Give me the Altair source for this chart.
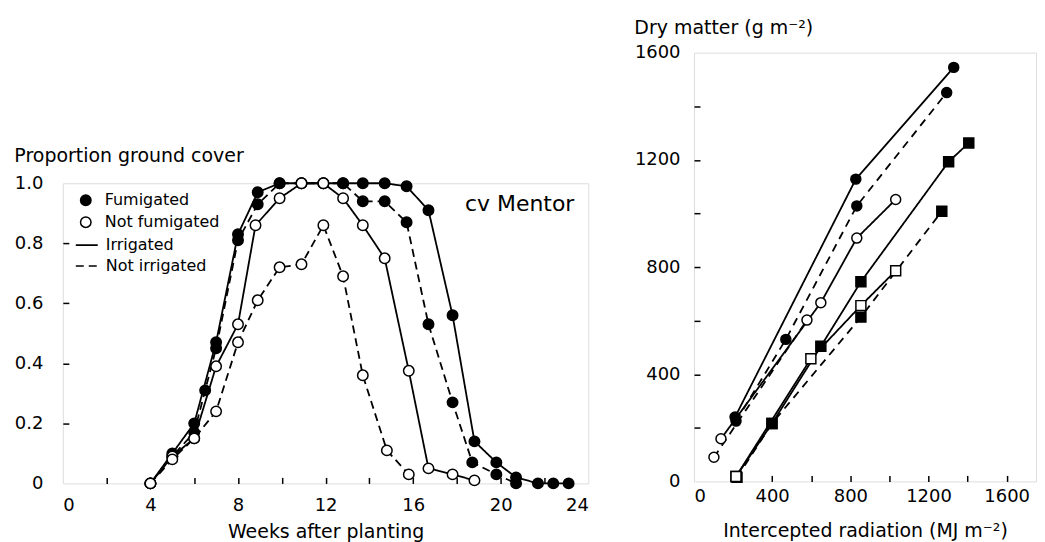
import altair as alt
import pandas as pd

FONT = "DejaVu Sans"

# ---------------- Left panel data: proportion ground cover ----------------
fi_wk = [4, 5, 6, 7, 8, 8.9, 9.9, 10.9, 11.9, 12.8, 13.7, 14.7, 15.7, 16.7, 17.8, 18.8, 19.8, 20.7, 21.7, 22.4, 23.1]
fi_gc = [0, 0.10, 0.20, 0.47, 0.83, 0.97, 1.0, 1.0, 1.0, 1.0, 1.0, 1.0, 0.99, 0.91, 0.56, 0.14, 0.07, 0.02, 0.0, 0.0, 0.0]

fn_wk = [4, 5, 6, 6.5, 7, 8, 8.9, 9.9, 10.9, 11.9, 12.8, 13.7, 14.7, 15.7, 16.7, 17.8, 18.7, 19.8, 20.7]
fn_gc = [0, 0.09, 0.17, 0.31, 0.45, 0.81, 0.93, 1.0, 1.0, 1.0, 1.0, 0.94, 0.94, 0.87, 0.53, 0.27, 0.07, 0.03, 0.0]

ni_wk = [4, 5, 6, 7, 8, 8.8, 9.9, 10.9, 11.9, 12.8, 13.7, 14.7, 15.8, 16.7, 17.8, 18.8]
ni_gc = [0, 0.09, 0.15, 0.39, 0.53, 0.86, 0.95, 1.0, 1.0, 0.95, 0.86, 0.75, 0.375, 0.05, 0.03, 0.01]

nn_wk = [4, 5, 6, 7, 8, 8.9, 9.9, 10.9, 11.9, 12.8, 13.7, 14.8, 15.8]
nn_gc = [0, 0.08, 0.15, 0.24, 0.47, 0.61, 0.72, 0.73, 0.86, 0.69, 0.36, 0.11, 0.03]

fum_levels = ["Fumigated", "Not fumigated"]
irr_levels = ["Irrigated", "Not irrigated"]

left_x_labels = [0, 4, 8, 12, 16, 20, 24]
left_x_ticks = [2, 4, 6, 8, 10, 12, 14, 16, 18, 20, 22]
left_y_labels = [0, 0.2, 0.4, 0.6, 0.8, 1.0]
left_y_ticks = [0.2, 0.4, 0.6, 0.8]

# ---------------- Right panel data: dry matter vs intercepted radiation ----------------
a_x = [210, 828, 1329];            a_y = [240, 1128, 1545]          # filled circle, solid
b_x = [215, 470, 833, 1293];       b_y = [225, 530, 1028, 1451]     # filled circle, dashed
c_x = [138, 649, 833, 1032];       c_y = [159, 667, 908, 1052]      # open circle, solid
d_x = [102, 578];                  d_y = [90, 602]                  # open circle, dashed
e_x = [215, 399, 649, 854, 1303, 1406]; e_y = [18, 216, 504, 745, 1193, 1263]  # filled square, solid
f_x = [220, 399, 854, 1268];       f_y = [15, 216, 613, 1008]       # filled square, dashed
g_x = [215, 598, 854, 1032];       g_y = [18, 458, 656, 786]        # open square, solid

right_x_labels = [0, 400, 800, 1200, 1600]
right_x_ticks = [200, 400, 600, 800, 1000, 1200, 1400, 1600]
right_y_labels = [0, 400, 800, 1200, 1600]
right_y_ticks = [200, 400, 600, 800, 1000, 1200, 1400]

# ---------------- Build tables ----------------
rows = []
for name, fum, irr, wk, gc in [
    ("FI", "Fumigated", "Irrigated", fi_wk, fi_gc),
    ("FN", "Fumigated", "Not irrigated", fn_wk, fn_gc),
    ("NI", "Not fumigated", "Irrigated", ni_wk, ni_gc),
    ("NN", "Not fumigated", "Not irrigated", nn_wk, nn_gc),
]:
    for w, g in zip(wk, gc):
        rows.append({"series": name, "Fumigation": fum, "Irrigation": irr, "week": w, "cover": g})
left_df = pd.DataFrame(rows)

rows = []
for name, fill, dash, shape, xs, ys in [
    ("A", "filled", "solid", "circle", a_x, a_y),
    ("B", "filled", "dashed", "circle", b_x, b_y),
    ("C", "open", "solid", "circle", c_x, c_y),
    ("D", "open", "dashed", "circle", d_x, d_y),
    ("E", "filled", "solid", "square", e_x, e_y),
    ("F", "filled", "dashed", "square", f_x, f_y),
    ("G", "open", "solid", "square", g_x, g_y),
]:
    for xv, yv in zip(xs, ys):
        rows.append({"series": name, "mfill": fill, "dash": dash, "mshape": shape, "rad": xv, "dm": yv})
right_df = pd.DataFrame(rows)

# ---------------- Left panel ----------------
W1, H1 = 527, 301
xs1 = alt.Scale(domain=[0, 24], nice=False, zero=False)
ys1 = alt.Scale(domain=[0, 1], nice=False)

lab_common = dict(labelFont=FONT, labelFontSize=18, labelColor="black", titleFont=FONT,
                  titleFontSize=19, titleFontWeight="normal", titleColor="black", grid=False, domain=False)

x1 = alt.X("week:Q", scale=xs1, axis=alt.Axis(values=left_x_labels, ticks=False, labelPadding=13,
                                              title="Weeks after planting", titlePadding=8, **lab_common))
y1 = alt.Y("cover:Q", scale=ys1, axis=alt.Axis(values=left_y_labels, ticks=False, labelPadding=20, title=None,
                                               labelExpr="datum.value == 0 ? '0' : format(datum.value, '.1f')",
                                               **lab_common))
x1t = alt.X("week:Q", scale=xs1, axis=alt.Axis(orient="top", offset=-H1, values=left_x_ticks, labels=False,
                                               domain=False, grid=False, tickSize=6, tickWidth=1.5,
                                               tickColor="black", title=None))
y1t = alt.Y("cover:Q", scale=ys1, axis=alt.Axis(orient="right", offset=-W1, values=left_y_ticks, labels=False,
                                                domain=False, grid=False, tickSize=6, tickWidth=1.5,
                                                tickColor="black", title=None))

lines1 = alt.Chart(left_df).mark_line(color="black", strokeWidth=1.8).encode(
    x=x1, y=y1, detail="series:N",
    strokeDash=alt.StrokeDash("Irrigation:N",
                              scale=alt.Scale(domain=irr_levels, range=[[1, 0], [8, 5]]),
                              legend=alt.Legend(title=None, orient="none", legendX=12, legendY=50,
                                                symbolType="stroke", symbolSize=484, symbolStrokeColor="black",
                                                symbolStrokeWidth=1.6, labelFont=FONT, labelFontSize=16,
                                                labelColor="black", labelOffset=7, rowPadding=1, padding=0)),
)
pts1 = alt.Chart(left_df).mark_point(filled=True, size=110, shape="circle", stroke="black",
                                     strokeWidth=1.5, opacity=1).encode(
    x=x1t, y=y1t,
    fill=alt.Fill("Fumigation:N", scale=alt.Scale(domain=fum_levels, range=["black", "white"]),
                  legend=alt.Legend(title=None, orient="none", legendX=15, legendY=9, symbolType="circle",
                                    symbolSize=110, symbolStrokeColor="black", symbolStrokeWidth=1.5,
                                    labelFont=FONT, labelFontSize=16, labelColor="black", labelOffset=11,
                                    rowPadding=4, padding=0)),
)
ann1 = alt.Chart(pd.DataFrame({"t": ["cv Mentor"]})).mark_text(
    align="right", baseline="middle", font=FONT, fontSize=22, color="black"
).encode(text="t:N", x=alt.value(W1 - 14), y=alt.value(21))

left = alt.layer(lines1, pts1, ann1).resolve_axis(x="independent", y="independent").properties(
    width=W1, height=H1,
    title=alt.TitleParams("Proportion ground cover", anchor="start", font=FONT, fontSize=19,
                          fontWeight="normal", color="black", offset=8),
)

spacer = alt.Chart(pd.DataFrame({"t": [""]})).mark_text().encode(text="t:N").properties(
    width=1, height=93, view=alt.ViewBackground(stroke="transparent"))

left_col = alt.vconcat(spacer, left, spacing=0).resolve_scale(fill="independent", strokeDash="independent")

# ---------------- Right panel ----------------
W2, H2 = 343, 430
xs2 = alt.Scale(domain=[0, 1750], nice=False)
ys2 = alt.Scale(domain=[0, 1600], nice=False)

x2 = alt.X("rad:Q", scale=xs2, axis=alt.Axis(values=right_x_labels, ticks=False, labelPadding=6, format="d",
                                             title="Intercepted radiation (MJ m\u207b\u00b2)", titlePadding=16,
                                             **lab_common))
y2 = alt.Y("dm:Q", scale=ys2, axis=alt.Axis(values=right_y_labels, ticks=False, labelPadding=14, title=None,
                                            format="d", **lab_common))
x2t = alt.X("rad:Q", scale=xs2, axis=alt.Axis(orient="top", offset=-H2, values=right_x_ticks, labels=False,
                                              domain=False, grid=False, tickSize=6, tickWidth=1.5,
                                              tickColor="black", title=None))
y2t = alt.Y("dm:Q", scale=ys2, axis=alt.Axis(orient="right", offset=-W2, values=right_y_ticks, labels=False,
                                             domain=False, grid=False, tickSize=6, tickWidth=1.5,
                                             tickColor="black", title=None))

lines2 = alt.Chart(right_df).mark_line(color="black", strokeWidth=1.8).encode(
    x=x2, y=y2, detail="series:N",
    strokeDash=alt.StrokeDash("dash:N", scale=alt.Scale(domain=["solid", "dashed"], range=[[1, 0], [8, 6]]),
                              legend=None),
)
pts2 = alt.Chart(right_df).mark_point(filled=True, size=100, stroke="black", strokeWidth=1.5, opacity=1).encode(
    x=x2t, y=y2t,
    shape=alt.Shape("mshape:N", scale=alt.Scale(domain=["circle", "square"], range=["circle", "square"]),
                    legend=None),
    fill=alt.Fill("mfill:N", scale=alt.Scale(domain=["filled", "open"], range=["black", "white"]), legend=None),
)

right = alt.layer(lines2, pts2).resolve_axis(x="independent", y="independent").properties(
    width=W2, height=H2,
    title=alt.TitleParams("Dry matter (g m\u207b\u00b2)", anchor="start", font=FONT, fontSize=19,
                          fontWeight="normal", color="black", offset=6),
)

chart = alt.hconcat(left_col, right, spacing=44).resolve_scale(
    fill="independent", strokeDash="independent", shape="independent"
).properties(
    padding={"left": 5, "top": 9, "right": 0, "bottom": 0}
).configure_view(stroke="black", strokeWidth=2).configure(font=FONT, background="white")

chart.save("out.html", embed_options={"renderer": "svg", "actions": False})
